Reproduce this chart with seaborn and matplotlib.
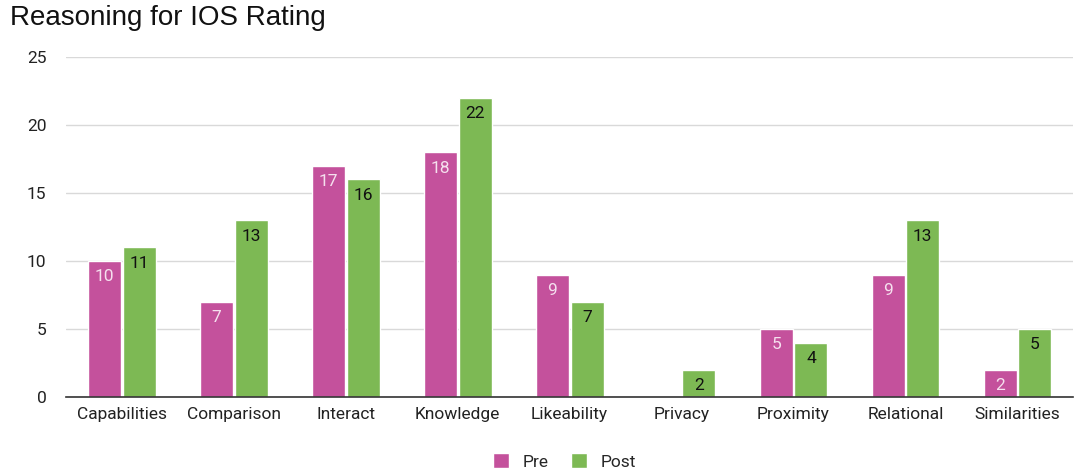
import matplotlib
matplotlib.use("Agg")
import matplotlib.pyplot as plt
import seaborn as sns
import pandas as pd

categories = ["Capabilities", "Comparison", "Interact", "Knowledge", "Likeability",
              "Privacy", "Proximity", "Relational", "Similarities"]
pre = [10, 7, 17, 18, 9, 0, 5, 9, 2]
post = [11, 13, 16, 22, 7, 2, 4, 13, 5]
series = ["Pre", "Post"]
yticks = [0, 5, 10, 15, 20, 25]

df = pd.DataFrame({
    "Category": categories * 2,
    "Value": pre + post,
    "Series": ["Pre"] * len(categories) + ["Post"] * len(categories),
})

sns.set_theme(style="white")
plt.rcParams["font.family"] = ["Roboto", "DejaVu Sans"]

fig = plt.figure(figsize=(10.82, 4.73), dpi=100)
ax = fig.add_axes([0.061, 0.1607, 0.931, 0.7188])

palette = {"Pre": "#c4519c", "Post": "#7db954"}
sns.barplot(data=df, x="Category", y="Value", hue="Series", hue_order=series,
            palette=palette, width=0.62, gap=0.05, saturation=1, ax=ax,
            legend=True)

ax.set_ylim(0, 25)
ax.set_yticks(yticks)
ax.set_xlim(-0.5, len(categories) - 0.5)
ax.yaxis.grid(True, color="#d9d9d9", linewidth=1)
ax.set_axisbelow(True)
for s in ["top", "right", "left"]:
    ax.spines[s].set_visible(False)
ax.spines["bottom"].set_color("#333333")
ax.spines["bottom"].set_linewidth(1.2)
ax.tick_params(axis="both", length=0, labelsize=12.5, colors="#222222")
ax.tick_params(axis="y", pad=14)
ax.tick_params(axis="x", pad=7)
ax.set_xlabel("")
ax.set_ylabel("")

for container, name in zip(ax.containers, series):
    color = "#f5e0ee" if name == "Pre" else "#111111"
    for patch in container:
        h = patch.get_height()
        if h <= 0:
            continue
        ax.annotate(f"{int(round(h))}",
                    (patch.get_x() + patch.get_width() / 2, h),
                    xytext=(0, -6), textcoords="offset points",
                    ha="center", va="top", fontsize=12.5, color=color)

ax.legend(loc="center", bbox_to_anchor=(0.495, -0.19), ncol=2, frameon=False,
          fontsize=12.5, handlelength=0.9, handleheight=0.9, columnspacing=1.3,
          handletextpad=0.8, borderpad=0.2)

fig.text(0.009, 0.935, "Reasoning for IOS Rating", fontsize=20, color="#111111",
         ha="left", va="bottom", family=["Liberation Sans", "DejaVu Sans"])

fig.savefig("out.png", dpi=100, facecolor="white")
